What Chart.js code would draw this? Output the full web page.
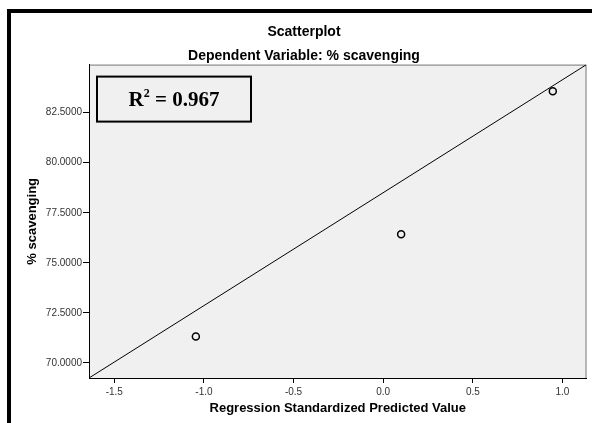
<!DOCTYPE html>
<html>
<head>
<meta charset="utf-8">
<title>Scatterplot</title>
<script src="https://cdn.jsdelivr.net/npm/chart.js@4/dist/chart.umd.min.js"></script>
<style>
    html, body { margin: 0; padding: 0; background: #fff; }
    #wrap { width: 592px; height: 423px; }
</style>
</head>
<body>
<div id="wrap"><canvas id="scatterChart" width="592" height="423"></canvas></div>
<script>
    // Observed values vs. standardized predicted values
    const predicted = [-1.045, 0.100, 0.946];
    const scavenging = [71.32, 76.43, 83.57];

    // Axis ranges and ticks
    const xRange = [-1.641, 1.134];
    const yRange = [69.25, 84.9];
    const xTicks = [-1.5, -1.0, -0.5, 0.0, 0.5, 1.0];
    const yTicks = [70.0, 72.5, 75.0, 77.5, 80.0, 82.5];

    // Reference line across the plot
    const lineX = [-1.641, 1.134];
    const lineY = [69.25, 84.9];

    const rSquared = '0.967';

    // White frame with the heavy black border on the left/top
    const framePlugin = {
        id: 'frame',
        beforeDraw: function(chart) {
            const ctx = chart.ctx;
            const a = chart.chartArea;
            ctx.save();
            ctx.fillStyle = '#ffffff';
            ctx.fillRect(0, 0, chart.width, chart.height);
            ctx.fillStyle = '#000000';
            ctx.fillRect(7, 9, chart.width - 7, 4);
            ctx.fillRect(7, 9, 4, chart.height - 9);
            ctx.fillStyle = '#f0f0f0';
            ctx.fillRect(a.left, a.top, a.right - a.left, a.bottom - a.top);
            ctx.strokeStyle = '#7a7a7a';
            ctx.lineWidth = 1;
            ctx.beginPath();
            ctx.moveTo(a.left, a.top + 0.5);
            ctx.lineTo(a.right - 0.5, a.top + 0.5);
            ctx.lineTo(a.right - 0.5, a.bottom);
            ctx.stroke();
            ctx.restore();
        }
    };

    // R squared text box in the upper left of the plot
    const rsqPlugin = {
        id: 'rsqBox',
        afterDraw: function(chart) {
            const ctx = chart.ctx;
            const a = chart.chartArea;
            const bx = a.left + 8, by = a.top + 12, bw = 154, bh = 45;
            ctx.save();
            ctx.strokeStyle = '#000000';
            ctx.lineWidth = 2;
            ctx.strokeRect(bx, by, bw, bh);

            ctx.fillStyle = '#000000';
            ctx.textBaseline = 'alphabetic';
            ctx.textAlign = 'left';
            const big = 'bold 21px "Liberation Serif", "Times New Roman", serif';
            const small = 'bold 12px "Liberation Serif", "Times New Roman", serif';
            ctx.font = big;
            const w1 = ctx.measureText('R').width;
            ctx.font = small;
            const w2 = ctx.measureText('2').width;
            ctx.font = big;
            const rest = ' = ' + rSquared;
            const w3 = ctx.measureText(rest).width;
            let x = bx + (bw - (w1 + w2 + w3)) / 2;
            const base = by + 29;
            ctx.fillText('R', x, base);
            x += w1;
            ctx.font = small;
            ctx.fillText('2', x, base - 9);
            x += w2;
            ctx.font = big;
            ctx.fillText(rest, x, base);
            ctx.restore();
        }
    };

    const points = predicted.map(function(v, i) {
        return { x: v, y: scavenging[i] };
    });
    const refLine = lineX.map(function(v, i) {
        return { x: v, y: lineY[i] };
    });

    const sans = '"Liberation Sans", Arial, sans-serif';
    const tickFont = { family: sans, size: 10 };
    const titleFont = { family: sans, size: 14, weight: 'bold' };
    const axisTitleFont = { family: sans, size: 13, weight: 'bold' };

    new Chart(document.getElementById('scatterChart'), {
        type: 'scatter',
        data: {
            datasets: [{
                label: 'Fit',
                type: 'line',
                data: refLine,
                borderColor: '#000000',
                borderWidth: 1,
                pointRadius: 0,
                fill: false,
                order: 2
            }, {
                label: '% scavenging',
                data: points,
                pointStyle: 'circle',
                pointRadius: 3.5,
                pointBorderWidth: 1.5,
                pointBorderColor: '#000000',
                pointBackgroundColor: 'rgba(0,0,0,0)',
                order: 1
            }]
        },
        options: {
            responsive: false,
            animation: false,
            layout: { padding: { top: 12, left: 20, right: 4, bottom: 0 } },
            plugins: {
                legend: { display: false },
                tooltip: { enabled: false },
                title: {
                    display: true,
                    text: 'Scatterplot',
                    color: '#000000',
                    font: titleFont,
                    padding: { top: 12, bottom: 1 }
                },
                subtitle: {
                    display: true,
                    text: 'Dependent Variable: % scavenging',
                    color: '#000000',
                    font: titleFont,
                    padding: { top: 6, bottom: 0 }
                }
            },
            scales: {
                x: {
                    type: 'linear',
                    min: xRange[0],
                    max: xRange[1],
                    afterFit: function(scale) { scale.height = 45; },
                    afterBuildTicks: function(scale) {
                        scale.ticks = xTicks.map(function(v) { return { value: v }; });
                    },
                    border: { display: true, color: '#000000', width: 1 },
                    grid: { drawOnChartArea: false, drawTicks: true, tickLength: 5, color: '#000000' },
                    ticks: {
                        color: '#333333',
                        font: tickFont,
                        padding: 3,
                        maxRotation: 0,
                        callback: function(v) { return Number(v).toFixed(1); }
                    },
                    title: {
                        display: true,
                        text: 'Regression Standardized Predicted Value',
                        color: '#000000',
                        font: axisTitleFont,
                        padding: { top: 0, bottom: 7 }
                    }
                },
                y: {
                    type: 'linear',
                    min: yRange[0],
                    max: yRange[1],
                    afterFit: function(scale) { scale.width = 69; },
                    afterBuildTicks: function(scale) {
                        scale.ticks = yTicks.map(function(v) { return { value: v }; });
                    },
                    border: { display: true, color: '#000000', width: 1 },
                    grid: { drawOnChartArea: false, drawTicks: true, tickLength: 6, color: '#000000' },
                    ticks: {
                        color: '#333333',
                        font: tickFont,
                        padding: 1,
                        callback: function(v) { return Number(v).toFixed(4); }
                    },
                    title: {
                        display: true,
                        text: '% scavenging',
                        color: '#000000',
                        font: axisTitleFont,
                        padding: { top: 5, bottom: 0 }
                    }
                }
            }
        },
        plugins: [framePlugin, rsqPlugin]
    });
</script>
</body>
</html>
